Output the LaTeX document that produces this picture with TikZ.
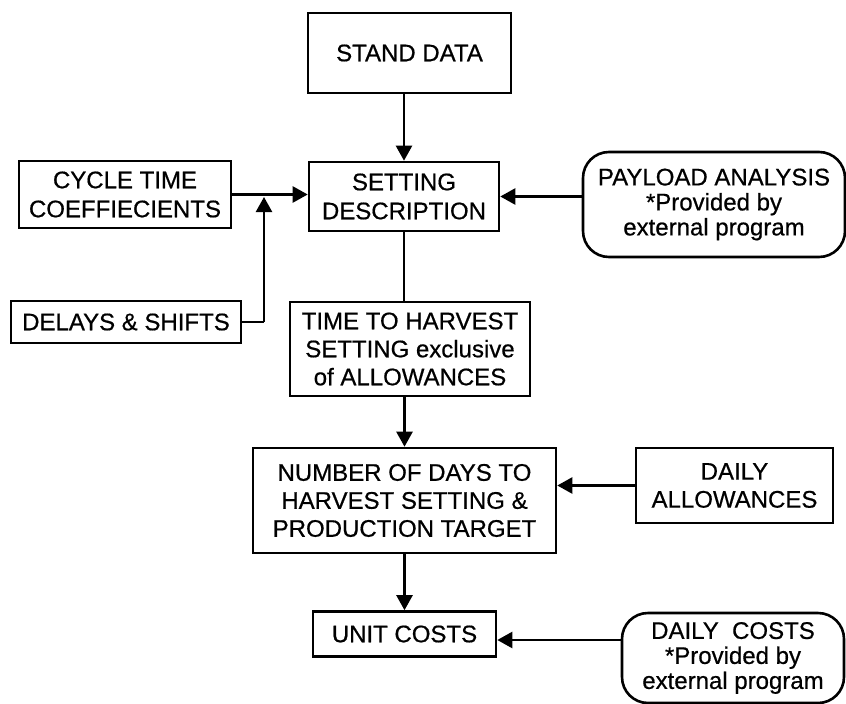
\documentclass[tikz,border=0pt]{standalone}
\usepackage{fontspec}
\setmainfont[FakeBold=0.6]{Liberation Sans}
\usetikzlibrary{arrows.meta}
\begin{document}
\begin{tikzpicture}[x=1pt,y=-1pt,
  every node/.style={font=\fontsize{24}{28}\selectfont, align=center, inner sep=0pt},
  box/.style={draw, line width=2.6pt, rectangle},
  rbox/.style={draw, line width=2.6pt, rectangle, rounded corners=26pt},
  link/.style={line width=2.4pt},
  arr/.style={link, -{Triangle[length=15pt,width=16pt]}}]
  \useasboundingbox (0,0) rectangle (846,704);

  % boxes
  \node[box, minimum width=203pt, minimum height=80pt] (stand) at (409.5,53) {STAND DATA};
  \node[box, minimum width=190pt, minimum height=69pt, font=\fontsize{24}{29}\selectfont] (setting) at (404,196.5) {SETTING\\DESCRIPTION};
  \node[box, minimum width=212pt, minimum height=67pt, font=\fontsize{24}{29}\selectfont] (cycle) at (125,194.5) {CYCLE TIME\\COEFFIECIENTS};
  \node[rbox, minimum width=262pt, minimum height=105pt, font=\fontsize{24}{25}\selectfont] (payload) at (714,204.5) {PAYLOAD ANALYSIS\\*Provided by\\external program};
  \node[box, minimum width=230pt, minimum height=42pt] (delays) at (126,322) {DELAYS \& SHIFTS};
  \node[box, minimum width=240pt, minimum height=94pt] (time) at (410,349) {TIME TO HARVEST\\SETTING exclusive\\of ALLOWANCES};
  \node[box, minimum width=303pt, minimum height=105pt] (number) at (404.5,500.5) {NUMBER OF DAYS TO\\HARVEST SETTING \&\\PRODUCTION TARGET};
  \node[box, minimum width=197pt, minimum height=75pt] (allow) at (734.5,485.5) {DAILY\\ALLOWANCES};
  \node[box, minimum width=183pt, minimum height=45pt] (unit) at (404.5,634) {UNIT COSTS};
  \node[rbox, minimum width=222pt, minimum height=90pt, font=\fontsize{24}{25}\selectfont] (dcosts) at (733,658) {DAILY\ \ COSTS\\*Provided by\\external program};

  % junction where the delays line meets the cycle-time line
  \coordinate (jdelay) at (264,322);
  \coordinate (jtop) at (264,197);

  % connectors
  \draw[arr] (setting.north |- stand.south) -- (setting.north);
  \draw[arr] (cycle.east) -- (cycle.east -| setting.west);
  \draw[link] (delays.east) -- (jdelay);
  \draw[arr] (jdelay) -- (jtop);
  \draw[arr] (payload.west |- setting.east) -- (setting.east);
  \draw[link] (setting.south) -- (setting.south |- time.north);
  \draw[arr] (number.north |- time.south) -- (number.north);
  \draw[arr] (allow.west) -- (allow.west -| number.east);
  \draw[arr] (number.south) -- (unit.north);
  \draw[arr] ([yshift=-6pt]dcosts.west |- unit.east) -- ([yshift=-6pt]unit.east);
\end{tikzpicture}
\end{document}
